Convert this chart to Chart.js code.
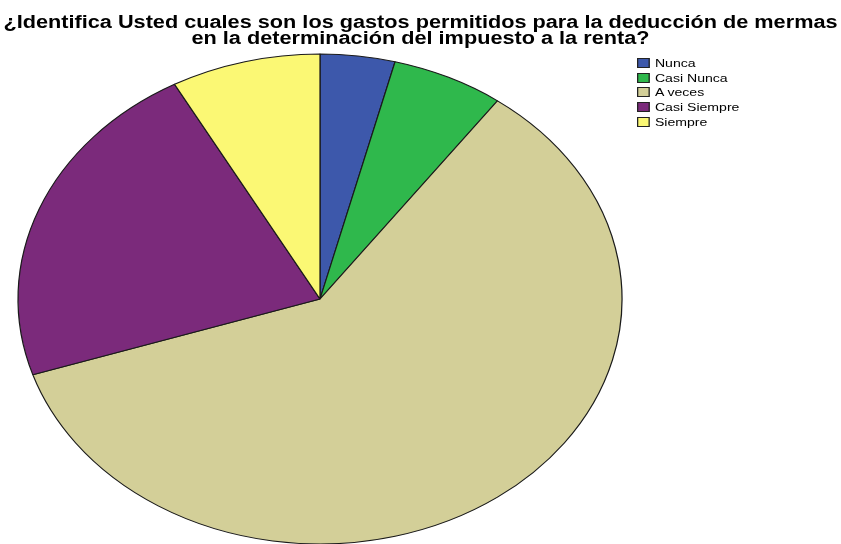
<!DOCTYPE html>
<html lang="es">
<head>
<meta charset="UTF-8">
<title>Gastos permitidos para la deducción de mermas</title>
<style>
  body { margin: 0; background: #fff; }
  .wrap { position: relative; width: 841px; height: 544px; overflow: hidden; }
  canvas { position: absolute; left: 0; top: 0; }
  #titulo {
    position: absolute; left: 0; top: 14px; width: 841px;
    text-align: center; white-space: nowrap;
    font: bold 18px "Liberation Sans", Arial, sans-serif; line-height: 16px; color: #000;
    transform: scaleX(1.205); transform-origin: 420.5px 0;
  }
  #legend {
    position: absolute; left: 637px; top: 56px;
    font: 11px "Liberation Sans", Arial, sans-serif; color: #000;
    transform: scaleX(1.28); transform-origin: 0 0;
  }
  #legend .item { height: 14.6px; display: flex; align-items: center; white-space: nowrap; }
  #legend .box {
    width: 10px; height: 10px; border: 1px solid #222;
    box-sizing: border-box; margin-right: 4px;
  }
</style>
</head>
<body>
<div class="wrap">
  <canvas id="grafico" width="841" height="544"></canvas>
  <div id="titulo"></div>
  <div id="legend"></div>
</div>
<script src="https://cdn.jsdelivr.net/npm/chart.js"></script>
<script>
  const categorias = ["Nunca", "Casi Nunca", "A veces", "Casi Siempre", "Siempre"];
  const porcentajes = [4, 6, 60, 22, 8];
  const colores = ["#3d58ab", "#2fb84c", "#d3cf98", "#7b2a7b", "#fbf874"];
  const titulo = [
    "¿Identifica Usted cuales son los gastos permitidos para la deducción de mermas",
    "en la determinación del impuesto a la renta?"
  ];

  // estira el circulo del pie para que llene el area (elipse)
  const elipse = {
    id: "elipse",
    beforeDatasetsDraw(chart) {
      const arc = chart.getDatasetMeta(0).data[0];
      const area = chart.chartArea;
      const r = arc.outerRadius;
      const ctx = chart.ctx;
      ctx.save();
      ctx.translate((area.left + area.right) / 2, (area.top + area.bottom) / 2);
      ctx.scale(area.width / 2 / r, area.height / 2 / r);
      ctx.translate(-arc.x, -arc.y);
    },
    afterDatasetsDraw(chart) {
      chart.ctx.restore();
    }
  };

  new Chart(document.getElementById("grafico"), {
    type: "pie",
    data: {
      labels: categorias,
      datasets: [{
        data: porcentajes,
        backgroundColor: colores,
        borderColor: "#1a1a1a",
        borderWidth: 1
      }]
    },
    options: {
      responsive: false,
      animation: false,
      events: [],
      layout: { padding: { left: 18, right: 219, top: 54, bottom: -2 } },
      plugins: {
        legend: { display: false },
        tooltip: { enabled: false },
        title: { display: false }
      }
    },
    plugins: [elipse]
  });

  document.getElementById("titulo").innerHTML = titulo.map(t => `<div>${t}</div>`).join("");

  const legend = document.getElementById("legend");
  categorias.forEach((c, i) => {
    const item = document.createElement("div");
    item.className = "item";
    item.innerHTML = `<span class="box" style="background:${colores[i]}"></span><span>${c}</span>`;
    legend.appendChild(item);
  });
</script>
</body>
</html>
